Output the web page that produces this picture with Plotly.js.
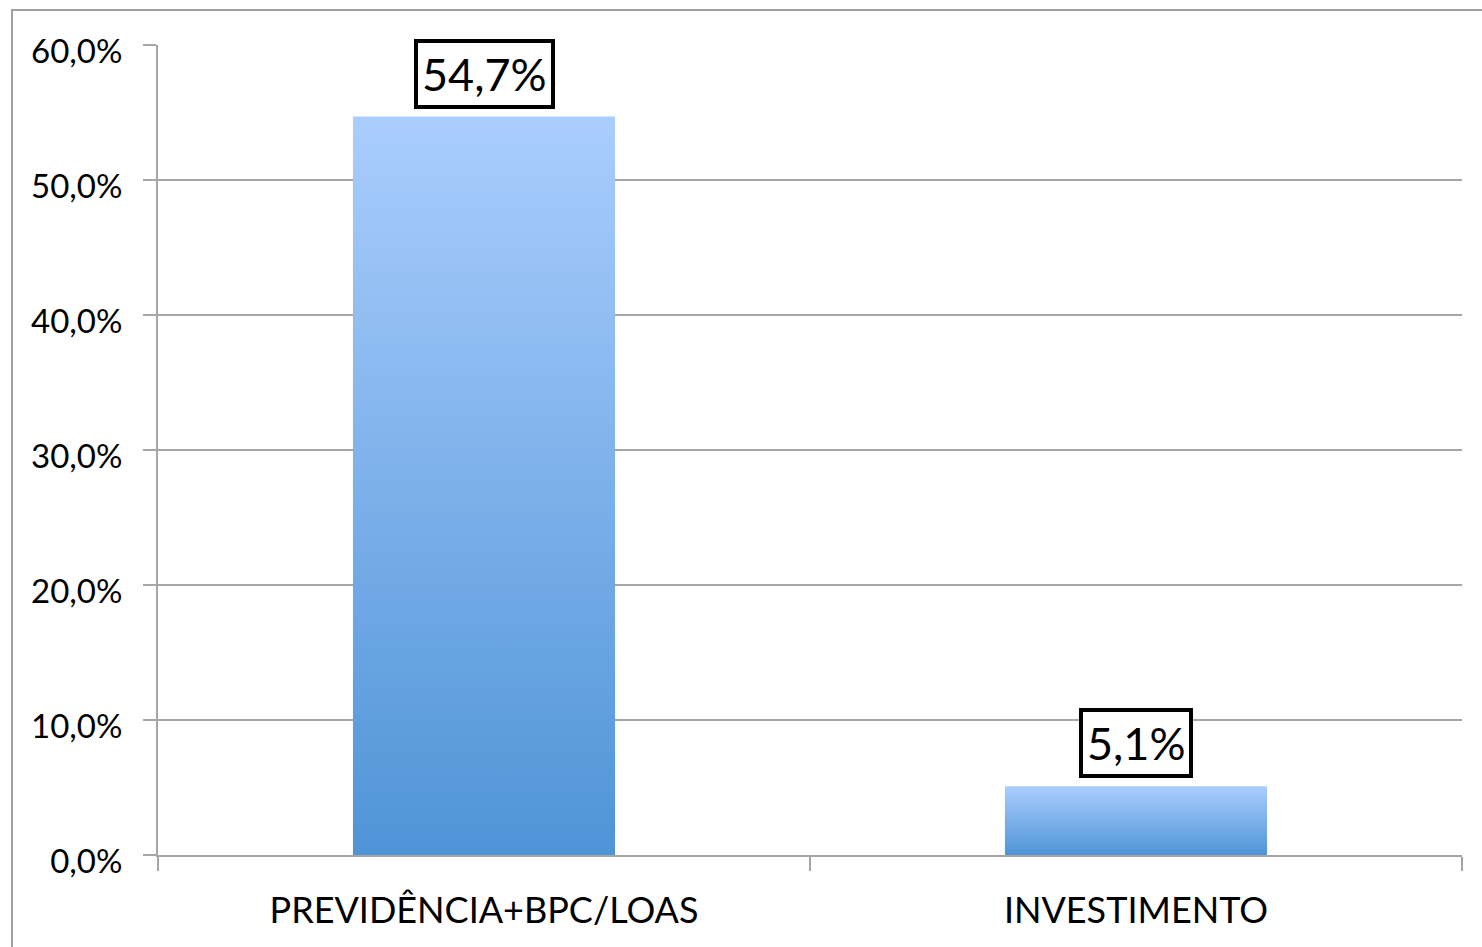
<!DOCTYPE html>
<html>
<head>
<meta charset="utf-8">
<script src="https://cdn.plot.ly/plotly-3.0.1.min.js"></script>
<style>
html,body{margin:0;padding:0;background:#fff;}
#chart{width:1482px;height:947px;}
</style>
</head>
<body>
<div id="chart"></div>
<script>
const categories = ["PREVIDÊNCIA+BPC/LOAS", "INVESTIMENTO"];
const values = [54.7, 5.1];
const yTicks = [0, 10, 20, 30, 40, 50, 60];

const fmt = v => v.toFixed(1).replace('.', ',') + '%';
const grid = '#a6a6a6';
const W = 1482, H = 947, L = 158, R = 20, T = 45, B = 92;
const pw = W - L - R, ph = H - T - B;

const trace = {
  type: 'bar',
  x: categories,
  y: values,
  marker: {color: '#7aaee8', line: {width: 0}},
  hoverinfo: 'none'
};

const annotations = categories.map((c, i) => ({
  x: c, y: values[i], xref: 'x', yref: 'y',
  text: fmt(values[i]),
  showarrow: false,
  yanchor: 'bottom',
  yshift: 8,
  font: {family: 'Lato, sans-serif', size: 45, color: '#000'},
  bordercolor: '#000',
  borderwidth: 4,
  borderpad: 4,
  bgcolor: '#fff'
}));

const layout = {
  width: W, height: H,
  margin: {l: L, r: R, t: T, b: B},
  paper_bgcolor: '#fff',
  plot_bgcolor: '#fff',
  separators: ',.',
  showlegend: false,
  bargap: 0.598,
  font: {family: 'Lato, sans-serif', color: '#000'},
  xaxis: {
    type: 'category',
    showgrid: false,
    showline: true, linecolor: grid, linewidth: 2,
    ticks: 'outside', tickson: 'boundaries', ticklen: 14, tickwidth: 2, tickcolor: grid,
    tickfont: {family: 'Lato, sans-serif', size: 36, color: '#000'},
    ticklabelstandoff: 23,
    fixedrange: true
  },
  yaxis: {
    range: [0, 60],
    tickvals: yTicks,
    ticktext: yTicks.map(fmt),
    showgrid: true, gridcolor: grid, gridwidth: 2,
    zeroline: false,
    showline: true, linecolor: grid, linewidth: 2,
    ticks: 'outside', ticklen: 13, tickwidth: 2, tickcolor: grid,
    tickfont: {family: 'Lato, sans-serif', size: 33, color: '#000'},
    ticklabelstandoff: 14,
    ticklabelshift: 6,
    fixedrange: true
  },
  annotations: annotations,
  shapes: [{
    type: 'rect', xref: 'paper', yref: 'paper',
    x0: (12 - L) / pw, x1: 1.2,
    y0: -0.3, y1: (T + ph - 10) / ph,
    line: {color: '#a0a0a0', width: 2},
    fillcolor: 'rgba(0,0,0,0)',
    layer: 'below'
  }]
};

Plotly.newPlot('chart', [trace], layout, {displayModeBar: false, staticPlot: true}).then(gd => {
  const svg = gd.querySelector('svg.main-svg');
  const ns = 'http://www.w3.org/2000/svg';
  let defs = svg.querySelector('defs');
  const lg = document.createElementNS(ns, 'linearGradient');
  lg.setAttribute('id', 'barGrad');
  lg.setAttribute('x1', '0'); lg.setAttribute('y1', '0');
  lg.setAttribute('x2', '0'); lg.setAttribute('y2', '1');
  [['0', '#aacdfd'], ['1', '#4f94d7']].forEach(([o, c]) => {
    const s = document.createElementNS(ns, 'stop');
    s.setAttribute('offset', o); s.setAttribute('stop-color', c);
    lg.appendChild(s);
  });
  defs.appendChild(lg);
  gd.querySelectorAll('.bars .point path').forEach(p => {
    p.style.fill = 'url(#barGrad)';
  });
});
</script>
</body>
</html>
